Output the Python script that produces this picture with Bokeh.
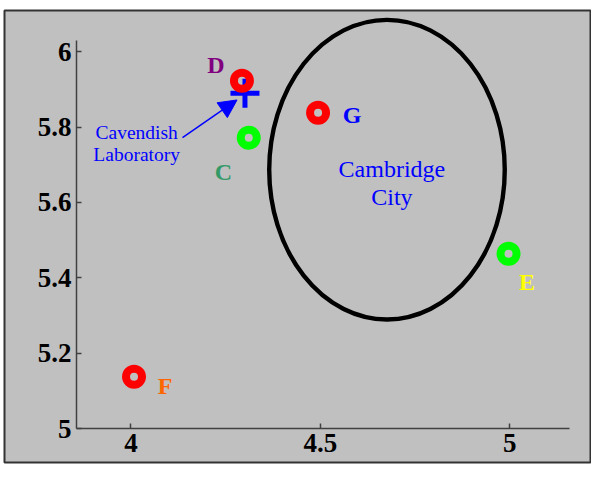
from bokeh.plotting import figure
from bokeh.models import ColumnDataSource, Range1d, FixedTicker, Arrow, NormalHead
from bokeh.core.properties import value
from bokeh.embed import file_html
from bokeh.resources import INLINE

# ---- data ----
site_names = ["C", "D", "E", "F", "G"]
site_x = [4.311, 4.293, 4.997, 4.008, 4.494]
site_y = [5.772, 5.923, 5.464, 5.138, 5.838]
site_ring_colors = ["#00ff00", "#ff0000", "#00ff00", "#ff0000", "#ff0000"]

label_x = [4.244, 4.224, 5.046, 4.090, 4.584]
label_y = [5.682, 5.964, 5.390, 5.113, 5.831]
label_colors = ["#339966", "#800080", "#ffff00", "#ff6600", "#0000ff"]

lab_x = [4.301]
lab_y = [5.890]
lab_text = ["Cavendish", "Laboratory"]
lab_text_x = [4.015, 4.015]
lab_text_y = [5.785, 5.726]
arrow_from = (4.136, 5.772)
arrow_to = (4.280, 5.872)

city_x = [4.676]
city_y = [5.687]
city_w = [0.622]
city_h = [0.795]
city_text = ["Cambridge", "City"]
city_text_x = [4.689, 4.689]
city_text_y = [5.690, 5.615]

x_ticks = [4, 4.5, 5]
x_tick_labels = ["4", "4.5", "5"]
y_ticks = [5, 5.2, 5.4, 5.6, 5.8, 6]
y_tick_labels = ["5", "5.2", "5.4", "5.6", "5.8", "6"]
x_axis_span = (3.856, 5.157)
y_axis_span = (5.0, 6.03)

GRAY = "#c0c0c0"
AXIS = "#404040"
FONT = "Liberation Serif"
W, H = 591, 464

p = figure(
    width=W, height=H,
    x_range=Range1d(3.666, 5.2134), y_range=Range1d(4.9103, 6.1093),
    output_backend="svg", toolbar_location=None,
    background_fill_color=GRAY, border_fill_color="white",
    outline_line_color="#333333", outline_line_width=2,
    min_border=0, min_border_left=4, min_border_top=10,
    min_border_right=1, min_border_bottom=2,
)
p.grid.visible = False

# axes drawn at the data origin inside the gray panel
p.xaxis.fixed_location = y_axis_span[0]
p.yaxis.fixed_location = x_axis_span[0]
p.xaxis.ticker = FixedTicker(ticks=x_ticks)
p.xaxis.major_label_overrides = dict(zip(x_ticks, x_tick_labels))
p.xaxis.bounds = x_axis_span
p.yaxis.ticker = FixedTicker(ticks=y_ticks)
p.yaxis.major_label_overrides = dict(zip(y_ticks, y_tick_labels))
p.yaxis.bounds = y_axis_span
for ax in (p.xaxis, p.yaxis):
    ax.axis_line_color = AXIS
    ax.axis_line_width = 1.5
    ax.major_tick_line_color = AXIS
    ax.major_tick_line_width = 1.5
    ax.major_tick_in = 5
    ax.major_tick_out = 0
    ax.minor_tick_line_color = None
    ax.major_label_text_font = FONT
    ax.major_label_text_font_style = "bold"
    ax.major_label_text_font_size = "27px"
    ax.major_label_text_color = "black"
p.xaxis.major_label_standoff = 5
p.yaxis.major_label_standoff = 5

# Cambridge City ellipse
p.ellipse(x=city_x, y=city_y, width=city_w, height=city_h,
          fill_color=None, line_color="black", line_width=4.4)
p.text(x=city_text_x, y=city_text_y, text=city_text, text_color="#0000ff",
       text_font=value(FONT), text_font_size="24px",
       text_align="center", text_baseline="alphabetic")

# Cavendish Laboratory
p.scatter(x=lab_x, y=lab_y, marker="cross", size=29, line_width=5, line_color="#0000ff")
p.add_layout(Arrow(end=NormalHead(size=18, fill_color="#0000ff", line_color="#0000ff"),
                   x_start=arrow_from[0], y_start=arrow_from[1],
                   x_end=arrow_to[0], y_end=arrow_to[1],
                   line_color="#0000ff", line_width=1.5))
p.text(x=lab_text_x, y=lab_text_y, text=lab_text, text_color="#0000ff",
       text_font=value(FONT), text_font_size="19.5px",
       text_align="center", text_baseline="alphabetic")

# sites
sites = ColumnDataSource(dict(x=site_x, y=site_y, c=site_ring_colors))
p.scatter(x="x", y="y", source=sites, marker="circle", size=16, line_width=8,
          line_color="c", fill_color=None)
labels = ColumnDataSource(dict(x=label_x, y=label_y, t=site_names, c=label_colors))
p.text(x="x", y="y", text="t", source=labels, text_color="c",
       text_font=value(FONT), text_font_style="bold", text_font_size="24px",
       text_align="center", text_baseline="alphabetic")

open("out.html", "w").write(file_html(p, INLINE))
